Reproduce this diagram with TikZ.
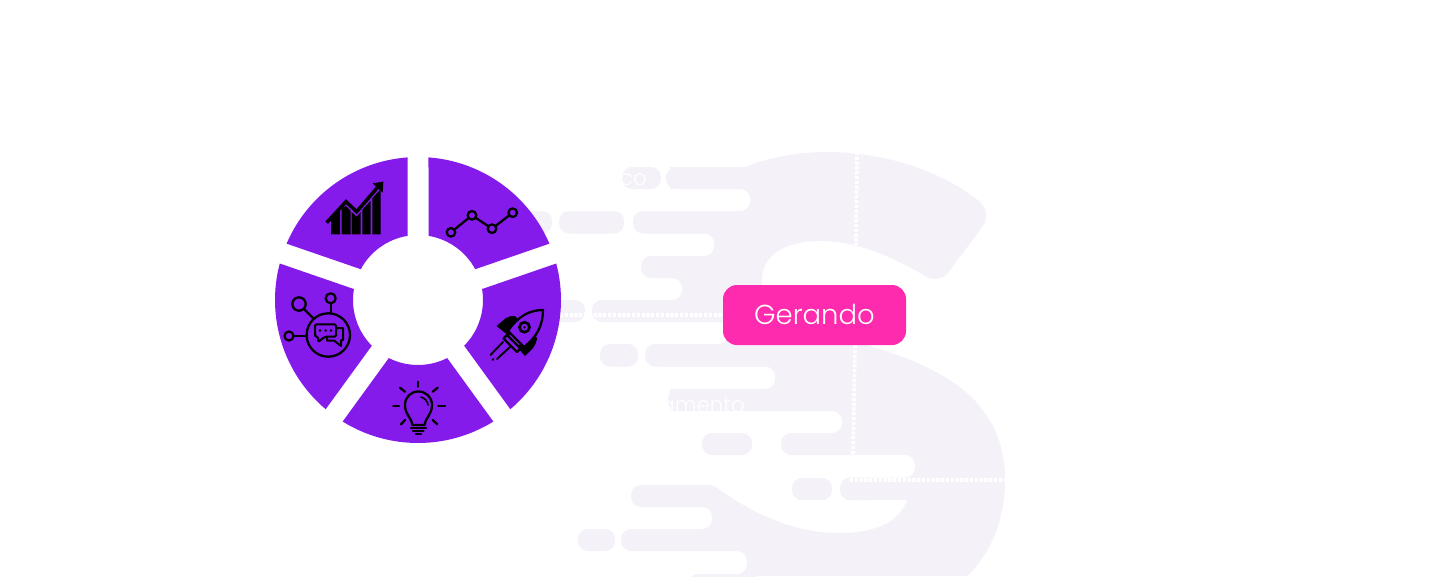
\documentclass[tikz,border=0pt]{standalone}
\usepackage{fontspec}
\setmainfont{Poppins}[UprightFont=* Light]
\definecolor{wheel}{HTML}{851BEB}
\definecolor{pinkbtn}{HTML}{FF2BAE}
\definecolor{ghost}{HTML}{F4F1F9}
\tikzset{
  ghostbar/.style={fill=ghost,rounded corners=7.5pt},
  notch/.style={fill=white,rounded corners=7.5pt},
  dotline/.style={draw=white,line width=2.8pt,dash pattern=on 2.4pt off 1.2pt},
  ink/.style={draw=black,line width=1.7pt,line cap=round,line join=round},
  inkfill/.style={ink,fill=wheel},
  btnbox/.style={fill=pinkbtn,rounded corners=10.5pt,minimum width=137.25pt,minimum height=45pt,inner sep=0pt,text=white,font=\fontsize{20.6pt}{26pt}\selectfont},
  ghosttext/.style={text=white,inner sep=0pt,font=\fontsize{16pt}{18pt}\selectfont}
}
\begin{document}
\begin{tikzpicture}[x=0.75pt,y=-0.75pt]
\useasboundingbox (0,0) rectangle (1440,576);
\fill[white] (0,0) rectangle (1440,576);
% S body
\fill[ghost] (670,167) -- (745,167) .. controls (770,157) and (800,152) .. (825,152)
 .. controls (880,152) and (935,168) .. (975,198) .. controls (987,205) and (989,218) .. (983,226)
 -- (950,270) .. controls (945,280) and (933,281) .. (925,276) .. controls (890,255) and (855,241) .. (820,241)
 .. controls (785,241) and (762,255) .. (762,280) .. controls (762,320) and (810,327) .. (873,347)
 .. controls (950,370) and (1005,405) .. (1005,480) .. controls (1005,520) and (990,555) .. (967,576)
 -- (700,576) -- (700,486) -- (707,485) .. controls (713,485) and (716,487) .. (720,490)
 .. controls (755,515) and (795,533) .. (840,533) .. controls (875,533) and (900,522) .. (907,500)
 -- (850,500) -- (850,466) -- (670,466) -- cycle;
% white notches
\foreach \ya/\yb/\xe in {189/211/750,233.5/256/714,278/300/682,322/344/728,366.5/389/775,411/433/842,455/477.5/915,507/529/712,551/574/747}
  \fill[notch] (590,\ya) rectangle (\xe,\yb);
\fill[white] (660,433) rectangle (800,455);
% grey bars joined to the S
\foreach \ya/\yb/\xs/\xe in {167/189/666/770,211/233.5/633/770,256/278/641/745,300/322/592/760,344/366.5/645/790,389/411/668/860,433/455/781/860,477.5/500/840/880,485/507/631/713,529/551/621/760,574/600/688/760}
  \fill[ghostbar] (\xs,\ya) rectangle (\xe,\yb);
% detached bars
\foreach \xa/\ya/\xb/\yb in {622/167/661/189,520/211/552/233.5,559/211/624/233.5,520/300/585/322,600/344/638/366.5,702/433/752/455,792/478/832/500,578/529/615/551}
  \fill[ghostbar] (\xa,\ya) rectangle (\xb,\yb);
% ghost texts
\node[ghosttext,anchor=base east] (tco) at (647,185) {co};
\node[ghosttext,anchor=base east] (tam) at (745,412) {amento};
% dotted guides
\coordinate (va) at (857,152); \coordinate (vb) at (856,245);
\coordinate (vc) at (855,345); \coordinate (vd) at (853,457);
\coordinate (ha) at (850,480); \coordinate (hb) at (1005,480);
\coordinate (hc) at (560,315); \coordinate (hd) at (725,315);
\draw[dotline] (va) -- (vb);
\draw[dotline] (vc) -- (vd);
\draw[dotline] (ha) -- (hb);
\draw[dotline] (hc) -- (hd);
% wheel
\begin{scope}[shift={(418,300)},x=0.75pt,y=0.75pt]
\foreach \oa/\ob/\ia/\ib in {23.21/85.79/28.3/80.7,-49.79/14.79/-44.7/9.7,-121.79/-58.21/-116.7/-63.3,165.21/229.79/170.3/224.7,94.21/156.79/99.3/151.7}
  \fill[wheel] (\oa:143) arc[start angle=\oa,end angle=\ob,radius=143] -- (\ib:65) arc[start angle=\ib,end angle=\ia,radius=65] -- cycle;
\end{scope}
% line chart icon
\draw[ink] (451,232.3) -- (472,215.3) -- (492,228.7) -- (512.7,212.7);
\foreach \p in {(451,232.3),(472,215.3),(492,228.7),(512.7,212.7)}
  \draw[inkfill] \p circle[radius=4.3];
% growth icon
\begin{scope}[shift={(260,140)},x=0.25pt,y=-0.25pt]
\fill[black] (213,283) -- (213,237) -- (240,209) -- (240,283) -- cycle;
\fill[black] (245,283) -- (245,205) -- (258,198) -- (272,212) -- (272,283) -- cycle;
\fill[black] (275,283) -- (275,216) -- (290,230) -- (302,216) -- (302,283) -- cycle;
\fill[black] (307,283) -- (307,209) -- (332,182) -- (332,283) -- cycle;
\fill[black] (337,283) -- (337,174) -- (362,148) -- (362,283) -- cycle;
\draw[black,line width=2.6pt,line join=miter] (200,248) -- (258,185) -- (290,215) -- (352,143);
\fill[black] (338,130) -- (370,125) -- (368,158) -- cycle;
\end{scope}
% rocket icon
\fill[black] (496.5,326) -- (506,318) .. controls (509,316) and (512,316) .. (515,316) -- (521,322) -- (509,336) -- cycle;
\fill[black] (525,356) -- (533,348) .. controls (535,345) and (537,341) .. (537,338) -- (532,332) -- (517,347) -- cycle;
\draw[inkfill] (543,310) .. controls (530,310) and (518,316) .. (508,331) -- (524,347) .. controls (537,337) and (543,325) .. (543,310) -- cycle;
\draw[black,line width=2pt] (524.5,327.2) circle[radius=5];
\fill[black] (524.5,327.2) circle[radius=1.4];
\draw[inkfill] (507,335) -- (503.5,338.5) -- (517,352) -- (520.5,348.5) -- cycle;
\draw[ink,line width=1.4pt] (503,342) -- (490.5,355);
\draw[ink,line width=1.4pt] (511,346) -- (497,359);
\draw[ink,line width=1.4pt] (492.5,360) -- (493.5,359);
% hub icon
\draw[ink] (304,309) -- (313,318);
\draw[ink] (330.7,303.3) -- (330.7,313);
\draw[ink] (293.5,336) -- (307,336);
\draw[inkfill] (328.3,335) circle[radius=21.7];
\draw[inkfill] (299,304) circle[radius=6.7];
\draw[inkfill] (330.7,298.3) circle[radius=5];
\draw[inkfill] (289,336) circle[radius=4.5];
\draw[ink,line width=1.5pt] (337,328) -- (343,328) -- (343,340) -- (341,340) -- (341,346) -- (334,340.5) -- (327,340.5) -- (327,337);
\draw[ink,line width=1.5pt,rounded corners=1pt] (315,324.3) -- (336,324.3) -- (336,336.7) -- (325,336.7) -- (318,342) -- (318,336.7) -- (315,336.7) -- cycle;
\foreach \x in {320,325.7,331} \fill[black] (\x,330.5) circle[radius=1.4];
% bulb icon
\draw[ink] (412.5,425) .. controls (412,418) and (405,415) .. (405,405) .. controls (405,397) and (411,391.5) .. (418.3,391.5) .. controls (426,391.5) and (432,397) .. (432,405) .. controls (432,415) and (425,418) .. (424.5,425) -- cycle;
\draw[ink,line width=1.2pt] (421,397) .. controls (425,398) and (428,402) .. (428,405);
\foreach \a/\b/\c/\d in {411/427.7/426/427.7,413/431/423.5/431,416/434.3/421/434.3,418.3/381.7/418.3/386.7,393.3/405.7/399/405.7,438.3/405.7/445/405.7,400/387.7/405/391.7,437.7/387.7/432.7/391.7,401/424.3/405/420,437.3/424.3/432.7/420}
  \draw[ink] (\a,\b) -- (\c,\d);
% button
\node[btnbox] (btn) at (814.5,315) {\raisebox{0.75pt}{Gerando}};
\end{tikzpicture}
\end{document}
